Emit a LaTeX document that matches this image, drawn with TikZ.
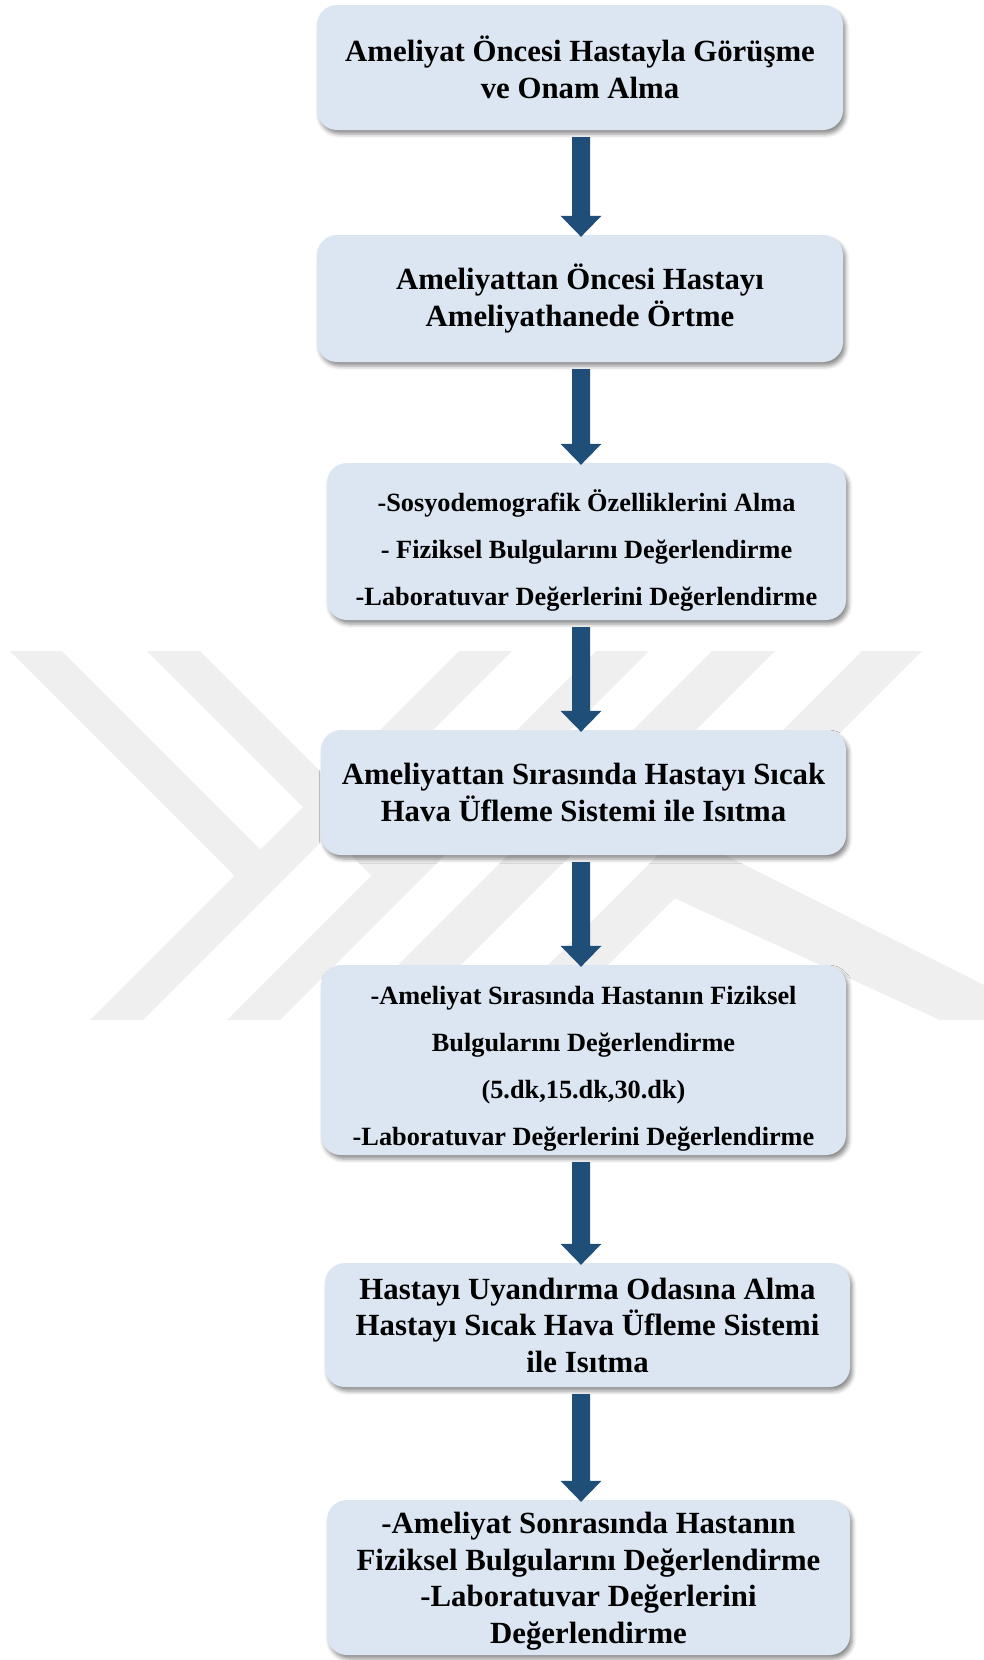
\documentclass[tikz,border=0pt]{standalone}
\usepackage{fontspec}
\setmainfont{Liberation Serif}
\usetikzlibrary{calc,shadows.blur}
\definecolor{boxblue}{RGB}{220,230,242}
\definecolor{arrowblue}{RGB}{31,78,121}
\definecolor{markgray}{RGB}{239,239,239}
\tikzset{
  stepbox/.style={rounded corners=20pt, fill=boxblue, inner sep=0pt, align=center,
    minimum width=526pt, font=\bfseries\fontsize{30.8}{36.5}\selectfont,
    blur shadow={shadow xshift=2.5pt, shadow yshift=-4pt, shadow blur radius=4pt, shadow opacity=45}},
  smalltext/.style={font=\bfseries\fontsize{26.3}{47}\selectfont}
}
\begin{document}
\begin{tikzpicture}[x=1pt,y=-1pt]
\useasboundingbox (0,0) rectangle (984,1660);
\begin{scope}
  \clip (0,651) rectangle (984,1020);
  \fill[markgray] (10,651) -- (62,651) -- (286.75,875.75) -- (234.75,875.75) -- cycle;
  \fill[markgray] (147,651) -- (200,651) -- (424.5,875.5) -- (371.5,875.5) -- cycle;
  \foreach \u/\w in {90/53,227/53,343/63,493/60}
    \fill[markgray] (\u,1020) -- (\u+\w,1020) -- (\u+\w+369,651) -- (\u+369,651) -- cycle;
  \fill[markgray] (672,897) -- (719,852) -- (984,985) -- (984,1020) -- (940,1020) -- cycle;
\end{scope}

\node[stepbox, minimum height=125pt] (onam) at (580,67.5) {Ameliyat Öncesi Hastayla Görüşme\\ve Onam Alma};
\node[stepbox, minimum height=127pt] (ortme) at (580,298.5) {\rule{0pt}{26pt}Ameliyattan Öncesi Hastayı\\Ameliyathanede Örtme};
\node[stepbox, smalltext, minimum width=519pt, minimum height=157pt] (sosyo) at (586.5,541.5) {\rule{0pt}{40pt}-Sosyodemografik Özelliklerini Alma\\- Fiziksel Bulgularını Değerlendirme\\-Laboratuvar Değerlerini Değerlendirme};
\node[stepbox, minimum width=525pt, minimum height=125pt] (isitma) at (583.5,792.5) {Ameliyattan Sırasında Hastayı Sıcak\\Hava Üfleme Sistemi ile Isıtma};
\node[stepbox, smalltext, minimum width=525pt, minimum height=190pt] (intra) at (583.5,1060) {\rule{0pt}{36pt}-Ameliyat Sırasında Hastanın Fiziksel\\Bulgularını Değerlendirme\\(5.dk,15.dk,30.dk)\\-Laboratuvar Değerlerini Değerlendirme};
\node[stepbox, minimum width=525pt, minimum height=124pt] (uyanma) at (587.5,1325) {Hastayı Uyandırma Odasına Alma\\Hastayı Sıcak Hava Üfleme Sistemi\\ile Isıtma};
\node[stepbox, minimum width=523pt, minimum height=155pt] (sonra) at (588.5,1577.5) {\rule{0pt}{29pt}-Ameliyat Sonrasında Hastanın\\Fiziksel Bulgularını Değerlendirme\\-Laboratuvar Değerlerini\\Değerlendirme};

\coordinate (axis) at (581,0);
\foreach \a/\b in {onam/ortme,ortme/sosyo,sosyo/isitma,isitma/intra,intra/uyanma,uyanma/sonra}
  \fill[arrowblue] ($(axis|-\a.south)+(-9,7)$) -- ($(axis|-\a.south)+(9,7)$)
    -- ($(axis|-\b.north)+(9,-19)$) -- ($(axis|-\b.north)+(20.5,-19)$) -- ($(axis|-\b.north)+(0,2)$)
    -- ($(axis|-\b.north)+(-20.5,-19)$) -- ($(axis|-\b.north)+(-9,-19)$) -- cycle;
\end{tikzpicture}
\end{document}
